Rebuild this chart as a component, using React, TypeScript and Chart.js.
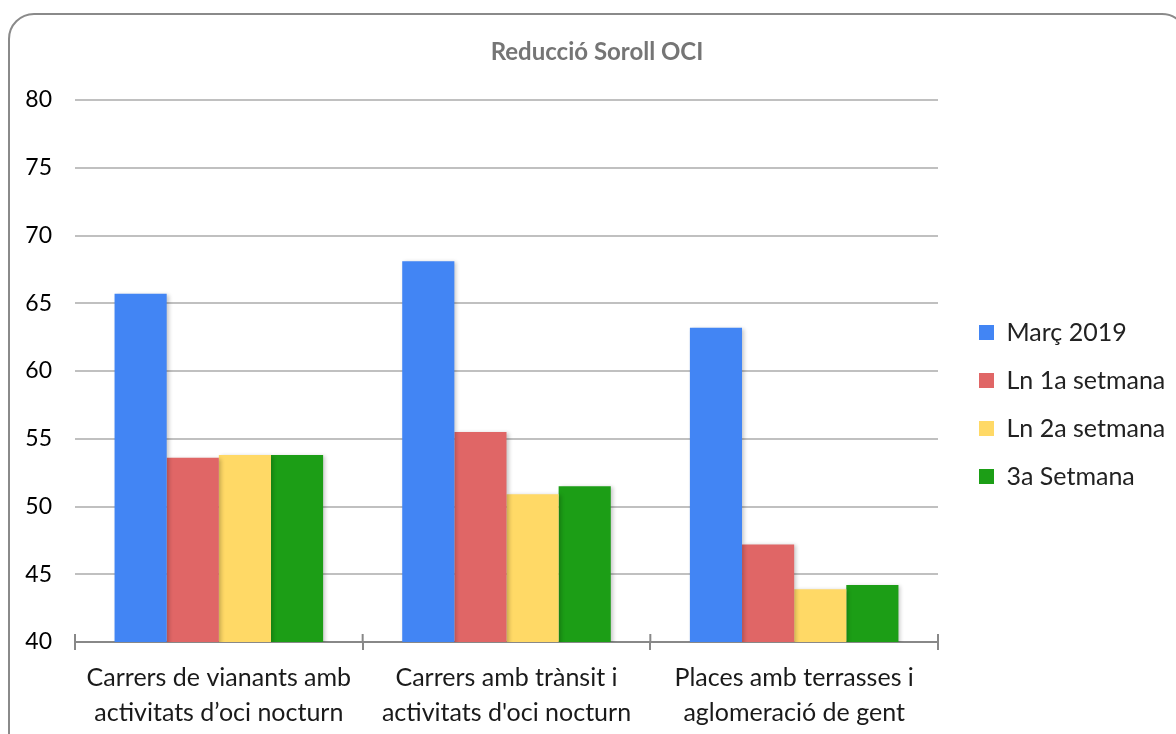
import React, { useEffect, useRef } from "react";
import { Chart, registerables } from "chart.js";

Chart.register(...registerables);

// ---- data ----
const chartTitle = "Reducció Soroll OCI";
const categories = [
  ["Carrers de vianants amb", "activitats d’oci nocturn"],
  ["Carrers amb trànsit i", "activitats d'oci nocturn"],
  ["Places amb terrasses i", "aglomeració de gent"],
];
const seriesNames = ["Març 2019", "Ln 1a setmana", "Ln 2a setmana", "3a Setmana"];
const marc2019 = [65.7, 68.1, 63.2];
const setmana1 = [53.6, 55.5, 47.2];
const setmana2 = [53.8, 50.9, 43.9];
const setmana3 = [53.8, 51.5, 44.2];
const seriesColors = ["#4285F4", "#E06666", "#FFD966", "#1C9E16"];
const yMin = 40;
const yMax = 80;
const yStep = 5;

const W = 1178;
const H = 721;

const shadowPlugin = {
  id: "barShadow",
  beforeDatasetsDraw(chart: any) {
    const c = chart.ctx;
    c.save();
    c.shadowColor = "rgba(0,0,0,0.22)";
    c.shadowBlur = 4;
    c.shadowOffsetX = 2;
    c.shadowOffsetY = 1;
  },
  afterDatasetsDraw(chart: any) {
    chart.ctx.restore();
  },
};

const upTicksPlugin = {
  id: "upTicks",
  afterDraw(chart: any) {
    const xs = chart.scales.x;
    const ctx = chart.ctx;
    const n = categories.length;
    const w = xs.width / n;
    ctx.save();
    ctx.strokeStyle = "#888";
    ctx.lineWidth = 2;
    for (let i = 0; i <= n; i++) {
      const x = xs.left + i * w;
      ctx.beginPath();
      ctx.moveTo(x, xs.top);
      ctx.lineTo(x, xs.top - 8);
      ctx.stroke();
    }
    ctx.restore();
  },
};

const placePlugin = {
  id: "placeBoxes",
  afterLayout(chart: any) {
    const lg = chart.legend;
    if (lg) {
      const left = chart.chartArea.right + 18;
      lg.left = left;
      lg.right = chart.width;
      lg.width = lg.right - lg.left;
      lg.top = 284;
      lg.bottom = chart.height;
      lg.height = lg.bottom - lg.top;
    }
    const t = chart.titleBlock;
    if (t) {
      t.left = 0;
      t.right = chart.width;
      t.width = chart.width;
    }
  },
};

export default function App() {
  const ref = useRef<HTMLCanvasElement>(null);

  useEffect(() => {
    const canvas = ref.current!;
    const values = [marc2019, setmana1, setmana2, setmana3];
    const chart = new Chart(canvas, {
      type: "bar",
      data: {
        labels: categories,
        datasets: seriesNames.map((name, i) => ({
          label: name,
          data: values[i],
          backgroundColor: seriesColors[i],
          borderWidth: 0,
          barPercentage: 1,
          categoryPercentage: 0.725,
        })),
      },
      options: {
        responsive: false,
        animation: false,
        devicePixelRatio: 1,
        layout: { padding: { left: 0, right: 148, top: 0, bottom: 0 } },
        plugins: {
          title: {
            display: true,
            text: chartTitle,
            color: "#757575",
            font: { family: "Lato", size: 24, weight: "bold", lineHeight: 1.2 },
            padding: { top: 24.6, bottom: 33.6 },
          },
          legend: {
            position: "right",
            align: "start",
            maxWidth: 100,
            labels: {
              boxWidth: 15,
              boxHeight: 15,
              padding: 23,
              color: "#222",
              font: { family: "Lato", size: 25 },
            },
          },
          tooltip: { enabled: false },
        },
        scales: {
          x: {
            grid: {
              offset: true,
              drawOnChartArea: false,
              drawTicks: true,
              tickLength: 8,
              color: "#888",
              lineWidth: 2,
            },
            border: { display: true, color: "#888", width: 2 },
            ticks: {
              padding: 10,
              color: "#1a1a1a",
              maxRotation: 0,
              autoSkip: false,
              font: { family: "Lato", size: 25, lineHeight: "35px" },
            },
            afterFit(s: any) {
              s.height = 92;
            },
          },
          y: {
            min: yMin,
            max: yMax,
            ticks: {
              stepSize: yStep,
              padding: 23,
              color: "#000",
              font: { family: "Lato", size: 23 },
            },
            grid: { color: "#c0c0c0", lineWidth: 2, drawTicks: false },
            border: { display: false },
            afterFit(s: any) {
              s.width = 67;
            },
          },
        },
      } as any,
      plugins: [shadowPlugin, upTicksPlugin, placePlugin],
    });
    return () => chart.destroy();
  }, []);

  return (
    <div style={{ position: "fixed", inset: 0, overflow: "hidden", background: "#fff" }}>
      <div
        style={{
          position: "absolute",
          left: 8,
          top: 13,
          width: 1180,
          height: 760,
          border: "2px solid #8a8a8a",
          borderRadius: 26,
          boxSizing: "border-box",
        }}
      />
      <canvas
        ref={ref}
        width={W}
        height={H}
        style={{ position: "absolute", left: 8, top: 13, width: W, height: H }}
      />
    </div>
  );
}
